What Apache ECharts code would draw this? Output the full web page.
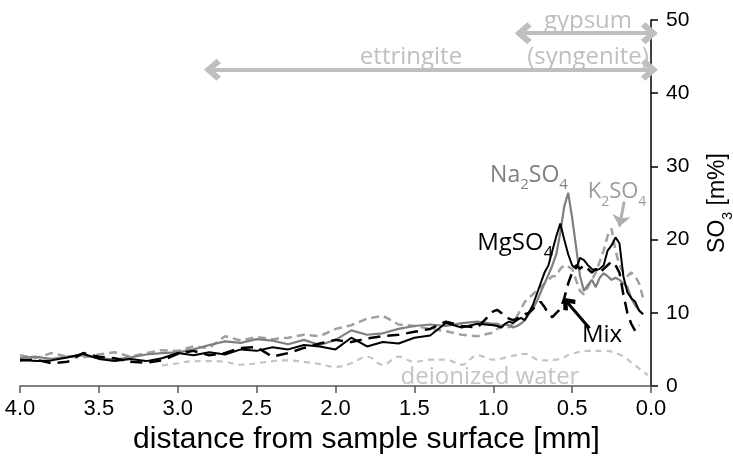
<!DOCTYPE html>
<html>
<head>
<meta charset="utf-8">
<script src="https://cdn.jsdelivr.net/npm/echarts@6.0.0/dist/echarts.min.js"></script>
<style>
  html, body { margin: 0; padding: 0; background: #fff; }
  #chart { width: 733px; height: 457px; }
</style>
</head>
<body>
<div id="chart"></div>
<script>
// distance from surface [mm], shared by the four salt solutions
const distance = [4.0, 3.9, 3.8, 3.7, 3.6, 3.5, 3.4, 3.3, 3.2, 3.1, 3.0, 2.9, 2.8, 2.7, 2.6, 2.5, 2.4, 2.3, 2.2, 2.1,
  2.0, 1.9, 1.8, 1.7, 1.6, 1.5, 1.4, 1.3, 1.2, 1.1, 1.0,
  0.975, 0.95, 0.925, 0.9, 0.875, 0.85, 0.825, 0.8, 0.775, 0.75, 0.725, 0.7, 0.675, 0.65, 0.625, 0.6, 0.575, 0.55,
  0.525, 0.5, 0.475, 0.45, 0.425, 0.4, 0.375, 0.35, 0.325, 0.3, 0.275, 0.25, 0.225, 0.2, 0.175, 0.15, 0.125, 0.1,
  0.075, 0.05];

const na2so4 = [3.8, 4.0, 3.7, 4.0, 4.2, 3.8, 3.6, 3.9, 4.3, 4.5, 4.6, 5.0, 5.6, 6.1, 5.9, 6.4, 6.2, 5.7, 6.3, 5.6,
  6.3, 7.6, 7.0, 7.2, 7.8, 8.2, 8.4, 8.2, 8.6, 8.8, 8.5,
  8.5, 8.2, 8.4, 8.3, 8.0, 8.2, 8.5, 9.0, 9.8, 10.5, 11.5, 12.8, 14.0, 15.2, 16.5, 18.0, 21.0, 24.5,
  26.4, 23.0, 19.0, 15.0, 13.0, 13.8, 14.5, 13.5, 14.8, 15.4, 15.0, 14.5, 14.8, 14.5, 14.0, 13.5, 12.0, 11.0,
  10.3, 9.8];

const mgso4 = [3.6, 3.4, 3.5, 3.9, 4.4, 3.7, 3.4, 3.7, 3.4, 3.8, 4.5, 4.2, 4.6, 4.3, 5.0, 4.8, 5.3, 5.0, 5.6, 5.4,
  5.0, 6.6, 5.4, 6.0, 5.8, 6.6, 6.9, 8.6, 8.0, 8.5, 8.3,
  8.2, 8.0, 8.5, 8.8, 8.6, 9.0, 9.3, 9.0, 10.0, 11.0, 12.5, 14.0, 15.5, 16.5, 18.5, 20.5, 22.2, 20.0,
  18.0, 16.5, 16.0, 17.5, 17.2, 16.5, 16.0, 15.8, 16.0, 16.5, 18.5, 19.2, 20.3, 19.5, 15.0, 12.8, 12.0, 11.5,
  10.3, 9.8];

const k2so4 = [4.2, 3.8, 4.5, 4.0, 3.9, 4.3, 4.6, 4.0, 4.5, 4.9, 4.8, 5.4, 5.2, 6.8, 6.2, 6.7, 6.4, 6.6, 7.0, 6.8,
  7.8, 8.3, 9.2, 9.6, 8.4, 8.2, 7.8, 7.5, 7.0, 6.8, 7.3,
  7.8, 8.0, 8.3, 8.0, 8.5, 9.5, 10.5, 11.5, 12.0, 12.5, 13.0, 13.5, 14.0, 14.5, 15.0, 15.0, 16.0, 16.5,
  16.3, 16.0, 14.5, 13.0, 12.5, 13.5, 14.5, 15.5, 17.0, 18.5, 20.5, 21.5, 18.5, 16.5, 15.5, 15.0, 15.5, 15.0,
  14.0, 12.0];

const mix = [3.5, 3.6, 3.1, 3.3, 4.5, 4.0, 3.8, 3.3, 3.2, 3.5, 4.4, 4.8, 4.2, 4.5, 5.2, 5.3, 4.0, 4.5, 5.2, 5.8,
  6.3, 6.0, 6.5, 6.8, 7.0, 7.4, 7.8, 8.8, 8.2, 8.0, 10.2,
  10.4, 10.0, 9.5, 9.2, 9.0, 9.2, 9.5, 9.8, 10.0, 10.5, 11.0, 11.5, 10.8, 9.8, 9.4, 10.0, 10.5, 12.0,
  14.0, 15.5, 16.5, 16.0, 16.5, 16.0, 15.5, 16.0, 15.5, 16.0, 16.5, 17.0, 16.5, 15.5, 12.5, 10.0, 8.5, 7.5,
  8.3, null];

// deionized water reference
const waterDistance = [3.1, 3.0, 2.9, 2.8, 2.7, 2.6, 2.5, 2.4, 2.3, 2.2, 2.1, 2.0, 1.9, 1.8, 1.7, 1.6,
  1.5, 1.4, 1.3, 1.2, 1.1, 1.0, 0.9, 0.8, 0.7, 0.6, 0.5, 0.4, 0.3, 0.2, 0.1, 0.02];
const water = [2.8, 3.1, 3.4, 3.4, 3.3, 2.9, 3.1, 3.4, 3.5, 3.3, 3.0, 2.6, 3.1, 4.0, 2.9, 4.0,
  3.3, 3.6, 3.6, 2.9, 4.2, 3.6, 4.0, 4.4, 3.5, 3.6, 4.4, 4.8, 4.8, 4.3, 2.8, 1.5];

const xTicks = [0, 4, 0.5];   // min, max, interval
const yTicks = [0, 50, 10];

const axisFont = "'Liberation Sans', Arial, sans-serif";
const labelFont = "'Open Sans', 'Noto Sans', sans-serif";
const chevron = 'path://M5,0 L10,7 L8,9.5 L5,5 L2,9.5 L0,7 Z';

const pairs = (xs, ys) => xs.map((x, i) => [x, ys[i]]);

const chart = echarts.init(document.getElementById('chart'));

const plainText = (text, color, size, x, y) => ({
  type: 'text', x, y,
  style: { text, fill: color, font: size + 'px ' + labelFont, align: 'center', verticalAlign: 'middle' }
});

const subText = (parts, color, size, x, y) => ({
  type: 'text',
  x, y,
  style: {
    text: parts,
    fill: color,
    font: size + 'px ' + labelFont,
    align: 'center',
    verticalAlign: 'middle',
    rich: {
      n: { fill: color, fontSize: size, fontFamily: labelFont, padding: [0, 0, 6, 0], verticalAlign: 'bottom' },
      s: { fill: color, fontSize: Math.round(size * 0.65), fontFamily: labelFont, verticalAlign: 'bottom' }
    }
  }
});

const option = {
  animation: false,
  grid: { left: 20, right: 82, top: 20, bottom: 71, outerBoundsMode: 'none', containLabel: false },
  xAxis: {
    type: 'value',
    inverse: true,
    min: xTicks[0],
    max: xTicks[1],
    interval: xTicks[2],
    name: 'distance from sample surface [mm]',
    nameLocation: 'middle',
    nameGap: 39,
    nameTextStyle: { fontFamily: axisFont, fontSize: 30, color: '#000', padding: [0, 0, 0, 62] },
    axisLine: { lineStyle: { color: '#595959', width: 1.5 } },
    axisTick: { length: 7, lineStyle: { color: '#595959', width: 1.5 } },
    axisLabel: {
      fontFamily: axisFont, fontSize: 22, color: '#000', margin: 12,
      formatter: v => v.toFixed(1)
    },
    splitLine: { show: false }
  },
  yAxis: {
    type: 'value',
    position: 'right',
    min: yTicks[0],
    max: yTicks[1],
    interval: yTicks[2],
    name: '{a|SO}{b|3}{a| [m%]}',
    nameLocation: 'middle',
    nameGap: 55,
    nameRotate: 90,
    nameTextStyle: {
      rich: {
        a: { fontFamily: axisFont, fontSize: 23, color: '#000', padding: [0, 0, 6, 0], verticalAlign: 'bottom' },
        b: { fontFamily: axisFont, fontSize: 14, color: '#000', verticalAlign: 'bottom' }
      }
    },
    axisLine: { show: true, lineStyle: { color: '#000', width: 1.5 } },
    axisTick: { show: true, length: 7, lineStyle: { color: '#000', width: 1.5 } },
    axisLabel: { fontFamily: axisFont, fontSize: 21, color: '#000', margin: 15 },
    splitLine: { show: false }
  },
  series: [
    {
      name: 'deionized water', type: 'line', showSymbol: false, smooth: 0.4,
      data: pairs(waterDistance, water),
      lineStyle: { color: '#c4c4c4', width: 2.2, type: [6, 5] },
      z: 1,
      markLine: {
        silent: true,
        animation: false,
        label: { show: false },
        data: [
          [
            { coord: [2.78, 43.2], symbol: chevron, symbolSize: [22, 17], lineStyle: { color: '#bfbfbf', width: 4, type: 'solid' } },
            { coord: [0.01, 43.2], symbol: chevron, symbolSize: [22, 17] }
          ],
          [
            { coord: [0.81, 48.2], symbol: chevron, symbolSize: [22, 17], lineStyle: { color: '#bfbfbf', width: 4, type: 'solid' } },
            { coord: [0.01, 48.2], symbol: chevron, symbolSize: [22, 17] }
          ],
          [
            { coord: [0.17, 25.2], symbol: 'none', lineStyle: { color: '#b0b0b0', width: 3, type: 'solid' } },
            { coord: [0.2, 21.8], symbol: 'arrow', symbolSize: [14, 11], itemStyle: { color: '#b0b0b0' } }
          ],
          [
            { coord: [0.39, 7.9], symbol: 'none', lineStyle: { color: '#000', width: 3, type: 'solid' } },
            { coord: [0.53, 11.4], symbol: chevron, symbolSize: [16, 13], itemStyle: { color: '#000' } }
          ]
        ]
      }
    },
    {
      name: 'K2SO4', type: 'line', showSymbol: false,
      data: pairs(distance, k2so4),
      lineStyle: { color: '#a0a0a0', width: 2.5, type: [8, 5] },
      z: 2
    },
    {
      name: 'Na2SO4', type: 'line', showSymbol: false,
      data: pairs(distance, na2so4),
      lineStyle: { color: '#7f7f7f', width: 2.2 },
      z: 3
    },
    {
      name: 'Mix', type: 'line', showSymbol: false, connectNulls: false,
      data: pairs(distance, mix),
      lineStyle: { color: '#000', width: 2.5, type: [12, 7] },
      z: 4
    },
    {
      name: 'MgSO4', type: 'line', showSymbol: false,
      data: pairs(distance, mgso4),
      lineStyle: { color: '#000', width: 2 },
      z: 5
    }
  ],
  graphic: [
    subText('{n|Na}{s|2}{n|SO}{s|4}', '#808080', 23, 529, 178),
    subText('{n|MgSO}{s|4}', '#000', 24, 515, 246),
    subText('{n|K}{s|2}{n|SO}{s|4}', '#9a9a9a', 22, 617, 195),
    plainText('Mix', '#000', 24, 602, 335),
    plainText('deionized water', '#c4c4c4', 24, 490, 377),
    plainText('ettringite', '#bfbfbf', 24, 411, 57),
    plainText('gypsum', '#bfbfbf', 24, 588, 21),
    plainText('(syngenite)', '#bfbfbf', 24, 588, 57)
  ]
};

chart.setOption(option);
</script>
</body>
</html>
